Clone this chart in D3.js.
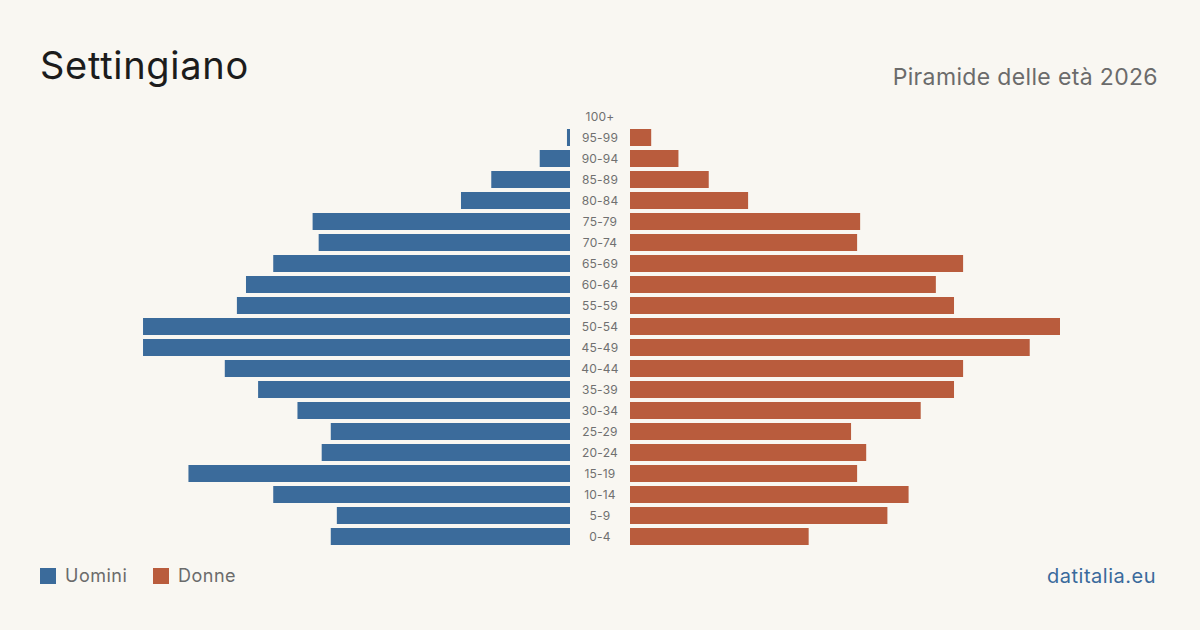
<!DOCTYPE html>
<html lang="it">
  <head>
    <meta charset="utf-8">
    <title>Settingiano - Piramide delle età 2026</title>
    <script src="https://d3js.org/d3.v7.min.js"></script>
    <style>
      body { margin: 0; background: #f9f7f2; }
      svg { display: block; font-family: Inter, "Noto Sans", sans-serif; }
    </style>
  </head>
  <body>
    <script>
    // dati
    var ageGroups = ["100+", "95-99", "90-94", "85-89", "80-84", "75-79", "70-74", "65-69",
                     "60-64", "55-59", "50-54", "45-49", "40-44", "35-39", "30-34", "25-29",
                     "20-24", "15-19", "10-14", "5-9", "0-4"];
    var uomini = [0, 1, 10, 26, 36, 85, 83, 98, 107, 110, 141, 141, 114, 103, 90, 79, 82, 126, 98, 77, 79];
    var donne  = [0, 7, 16, 26, 39, 76, 75, 110, 101, 107, 142, 132, 110, 107, 96, 73, 78, 75, 92, 85, 59];

    var w = 1200, h = 630;
    var center = 600, gap = 30;
    var blue = "#3b6b9b", red = "#b95c3d";

    var svg = d3.select("body").append("svg")
                .attr("width", w)
                .attr("height", h);

    svg.append("rect").attr("width", w).attr("height", h).attr("fill", "#f9f7f2");

    var yScale = d3.scaleBand()
                   .domain(ageGroups)
                   .range([106, 547])
                   .paddingInner(4 / 21)
                   .paddingOuter(2 / 21);

    var xScale = d3.scaleLinear()
                   .domain([0, d3.max(uomini.concat(donne))])
                   .range([0, 430]);

    // barre uomini
    svg.selectAll("rect.m")
       .data(uomini)
       .enter()
       .append("rect")
       .attr("class", "m")
       .attr("x", function(d) { return center - gap - xScale(d); })
       .attr("y", function(d, i) { return yScale(ageGroups[i]); })
       .attr("width", function(d) { return xScale(d); })
       .attr("height", yScale.bandwidth())
       .attr("fill", blue);

    // barre donne
    svg.selectAll("rect.f")
       .data(donne)
       .enter()
       .append("rect")
       .attr("class", "f")
       .attr("x", center + gap)
       .attr("y", function(d, i) { return yScale(ageGroups[i]); })
       .attr("width", function(d) { return xScale(d); })
       .attr("height", yScale.bandwidth())
       .attr("fill", red);

    // etichette età
    svg.selectAll("text.age")
       .data(ageGroups)
       .enter()
       .append("text")
       .attr("class", "age")
       .attr("x", center)
       .attr("y", function(d) { return yScale(d) + yScale.bandwidth() / 2; })
       .attr("dy", "0.35em")
       .attr("text-anchor", "middle")
       .attr("font-size", "12px")
       .attr("letter-spacing", "0.2px")
       .attr("fill", "#707070")
       .text(function(d) { return d; });

    // titoli
    svg.append("text")
       .attr("x", 40).attr("y", 79)
       .attr("font-size", "38px")
       .attr("letter-spacing", "0.7px")
       .attr("fill", "#1c1c1c")
       .text("Settingiano");

    svg.append("text")
       .attr("x", 1158).attr("y", 85)
       .attr("text-anchor", "end")
       .attr("font-size", "23px")
       .attr("letter-spacing", "0.35px")
       .attr("fill", "#6b6b6b")
       .text("Piramide delle età 2026");

    // legenda
    var legend = [{ label: "Uomini", color: blue, x: 40 }, { label: "Donne", color: red, x: 153 }];
    var lg = svg.selectAll("g.legend")
                .data(legend)
                .enter()
                .append("g")
                .attr("class", "legend")
                .attr("transform", function(d) { return "translate(" + d.x + ",568)"; });
    lg.append("rect").attr("width", 16).attr("height", 16).attr("fill", function(d) { return d.color; });
    lg.append("text")
      .attr("x", 25).attr("y", 8).attr("dy", "0.35em")
      .attr("font-size", "18px")
      .attr("letter-spacing", "0.5px")
      .attr("fill", "#6b6b6b")
      .text(function(d) { return d.label; });

    svg.append("text")
       .attr("x", 1156).attr("y", 583)
       .attr("text-anchor", "end")
       .attr("font-size", "20px")
       .attr("letter-spacing", "0.5px")
       .attr("fill", "#3a6a9c")
       .text("datitalia.eu");
    </script>
  </body>
</html>
